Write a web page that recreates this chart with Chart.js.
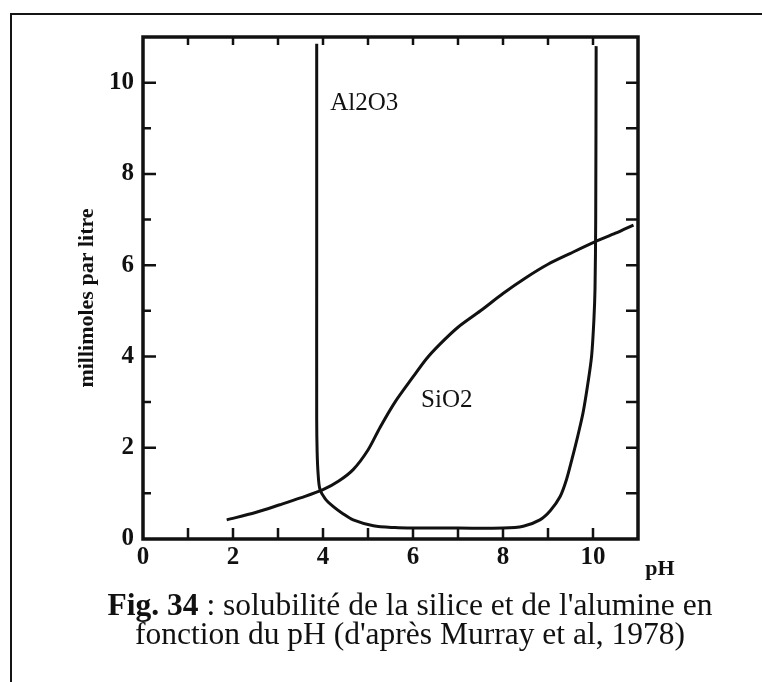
<!DOCTYPE html>
<html lang="fr">
<head>
<meta charset="utf-8">
<title>Solubilité de la silice et de l'alumine</title>
<script src="https://cdn.jsdelivr.net/npm/chart.js@4.4.0/dist/chart.umd.min.js"></script>
<style>
    html, body { margin: 0; padding: 0; background: #fff; }
    #page { position: relative; width: 762px; height: 682px; overflow: hidden; }
    #frame {
        position: absolute; left: 10px; top: 13px; right: -10px; bottom: -10px;
        border-top: 2px solid #151515; border-left: 2px solid #151515;
    }
    #chart-box { position: absolute; left: 0; top: 0; width: 762px; height: 682px; }
    #caption {
        position: absolute; left: 50px; width: 720px; top: 590px;
        font-family: "Liberation Serif", "Times New Roman", serif;
        font-size: 31.5px; line-height: 29px; color: #111; text-align: center;
    }
    #caption b { font-weight: bold; }
</style>
</head>
<body>
<div id="page">
    <div id="frame"></div>
    <div id="chart-box"><canvas id="solubility"></canvas></div>
    <div id="caption"><b>Fig. 34</b> : solubilité de la silice et de l'alumine en<br>fonction du pH (d'après Murray et al, 1978)</div>
</div>
<script>
// --- Data (pH vs millimoles par litre) ---
const alumPH = [3.86, 3.86, 3.86, 3.87, 3.89, 3.93, 4.05, 4.23, 4.45, 4.67, 5.12, 5.6, 6.0, 7.0, 8.0, 8.45, 8.82, 9.05, 9.27, 9.41, 9.53, 9.66, 9.78, 9.885, 9.97, 10.02, 10.045, 10.06, 10.07];
const alumMM = [10.85, 6.0, 2.6, 1.9, 1.45, 1.1, 0.88, 0.71, 0.55, 0.42, 0.29, 0.25, 0.24, 0.24, 0.24, 0.28, 0.42, 0.62, 0.93, 1.3, 1.74, 2.25, 2.77, 3.4, 4.02, 4.8, 5.5, 7.0, 10.8];

const silPH = [1.86, 2.5, 3.04, 3.5, 4.0, 4.35, 4.67, 5.0, 5.27, 5.6, 6.0, 6.3, 6.6, 7.0, 7.5, 8.0, 8.5, 9.0, 9.5, 10.04, 10.5, 10.9];
const silMM = [0.42, 0.58, 0.75, 0.9, 1.08, 1.27, 1.52, 1.95, 2.45, 3.0, 3.55, 3.95, 4.27, 4.64, 5.0, 5.38, 5.72, 6.02, 6.26, 6.51, 6.7, 6.88];

const xTickLabels = ['0', '2', '4', '6', '8', '10'];
const yTickLabels = ['0', '2', '4', '6', '8', '10'];

// curve names written inside the plot: [text, pH, mmol] (left / baseline)
const curveNames = [['Al2O3', 4.16, 9.4], ['SiO2', 6.18, 2.89]];

const INK = '#111';
const SERIF = '"Liberation Serif", "Times New Roman", serif';

function toPoints(xs, ys) {
    return xs.map((x, i) => ({ x: x, y: ys[i] }));
}

// Frame, inward ticks, axis titles and curve names
const framePlugin = {
    id: 'framePlugin',
    afterDatasetsDraw(chart) {
        const { ctx, chartArea: a, scales } = chart;
        ctx.save();
        ctx.strokeStyle = INK;
        ctx.lineCap = 'butt';

        // inward ticks on the four sides
        ctx.lineWidth = 2.5;
        ctx.beginPath();
        scales.x.ticks.forEach(t => {
            if (t.value <= 0 || t.value >= 11) return;
            const px = scales.x.getPixelForValue(t.value);
            ctx.moveTo(px, a.bottom); ctx.lineTo(px, a.bottom - 11);
            ctx.moveTo(px, a.top); ctx.lineTo(px, a.top + 8);
        });
        scales.y.ticks.forEach(t => {
            if (t.value <= 0 || t.value >= 11) return;
            const py = scales.y.getPixelForValue(t.value);
            const len = t.value % 2 === 0 ? 13 : 8;
            ctx.moveTo(a.left, py); ctx.lineTo(a.left + len, py);
            ctx.moveTo(a.right, py); ctx.lineTo(a.right - 12, py);
        });
        ctx.stroke();

        // plot frame
        ctx.lineWidth = 3.5;
        ctx.strokeRect(a.left, a.top, a.right - a.left, a.bottom - a.top);

        // axis titles
        ctx.fillStyle = INK;
        ctx.font = 'bold 22px ' + SERIF;
        ctx.textAlign = 'center';
        ctx.textBaseline = 'middle';
        ctx.save();
        ctx.translate(87, 298);
        ctx.rotate(-Math.PI / 2);
        ctx.fillText('millimoles par litre', 0, 0);
        ctx.restore();
        ctx.font = 'bold 22px ' + SERIF;
        ctx.fillText('pH', a.right + 22, a.bottom + 30);

        // curve names
        ctx.font = '25px ' + SERIF;
        ctx.textAlign = 'left';
        ctx.textBaseline = 'alphabetic';
        curveNames.forEach(([txt, px, py]) => {
            ctx.fillText(txt, scales.x.getPixelForValue(px), scales.y.getPixelForValue(py));
        });
        ctx.restore();
    }
};

const tickFont = { family: SERIF, size: 25, weight: 'bold' };

new Chart(document.getElementById('solubility'), {
    type: 'scatter',
    data: {
        datasets: [
            {
                label: 'Al2O3',
                data: toPoints(alumPH, alumMM),
                showLine: true,
                borderColor: INK,
                borderWidth: 3,
                pointRadius: 0,
                tension: 0.3
            },
            {
                label: 'SiO2',
                data: toPoints(silPH, silMM),
                showLine: true,
                borderColor: INK,
                borderWidth: 3,
                pointRadius: 0,
                tension: 0.3
            }
        ]
    },
    options: {
        responsive: true,
        maintainAspectRatio: false,
        animation: false,
        events: [],
        layout: { padding: { left: 0, top: 37, right: 124, bottom: 0 } },
        plugins: { legend: { display: false }, tooltip: { enabled: false } },
        scales: {
            x: {
                type: 'linear',
                min: 0, max: 11,
                grid: { display: false, drawTicks: false },
                border: { display: false },
                ticks: {
                    stepSize: 1,
                    autoSkip: false,
                    maxRotation: 0,
                    padding: 4,
                    color: INK,
                    font: tickFont,
                    callback: v => xTickLabels.includes(String(v)) ? String(v) : ''
                },
                afterFit: s => { s.height = 682 - 539; }
            },
            y: {
                type: 'linear',
                min: 0, max: 11,
                grid: { display: false, drawTicks: false },
                border: { display: false },
                ticks: {
                    stepSize: 1,
                    autoSkip: false,
                    padding: 9,
                    color: INK,
                    font: tickFont,
                    callback: v => yTickLabels.includes(String(v)) ? String(v) : ''
                },
                afterFit: s => { s.width = 143; }
            }
        }
    },
    plugins: [framePlugin]
});
</script>
</body>
</html>
